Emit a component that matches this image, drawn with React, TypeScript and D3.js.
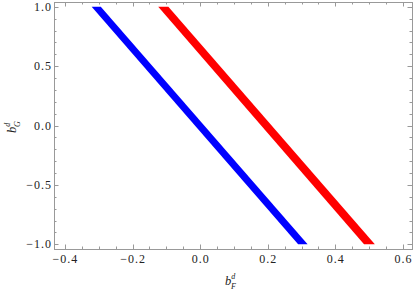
import { useEffect, useRef } from 'react';
import * as d3 from 'd3';

// band edges, read at y = -1 and y = 1
const yEnds = [-1, 1];
const blueLow = [0.290, -0.321];
const blueHigh = [0.318, -0.294];
const redLow = [0.485, -0.124];
const redHigh = [0.517, -0.094];

const xTicks = [-0.4, -0.2, 0.0, 0.2, 0.4, 0.6];
const yTicks = [-1.0, -0.5, 0.0, 0.5, 1.0];

export default function App() {
    const ref = useRef<SVGSVGElement>(null);

    useEffect(() => {
        const width = 414;
        const height = 291;
        const left = 54, top = 2, right = 412, bottom = 249;

        const svg = d3.select(ref.current);
        svg.selectAll('*').remove();

        const x = d3.scaleLinear().domain([-0.4325, 0.627]).range([left, right]);
        const y = d3.scaleLinear().domain([-1.04, 1.04]).range([bottom, top]);

        const band = (lo: number[], hi: number[]) => {
            const pts: [number, number][] = [];
            yEnds.forEach((v, i) => pts.push([x(lo[i]), y(v)]));
            for (let i = yEnds.length - 1; i >= 0; i--) pts.push([x(hi[i]), y(yEnds[i])]);
            return d3.line()(pts) + 'Z';
        };

        svg.append('path').attr('d', band(blueLow, blueHigh)).attr('fill', '#0000ff');
        svg.append('path').attr('d', band(redLow, redHigh)).attr('fill', '#ff0000');

        const frame = '#999999';
        svg.append('rect')
            .attr('x', left + 0.5).attr('y', top + 0.5)
            .attr('width', right - left).attr('height', bottom - top)
            .attr('fill', 'none').attr('stroke', frame).attr('stroke-width', 1);

        const ticks = svg.append('g').attr('stroke', frame).attr('stroke-width', 1);

        // x ticks (bottom and top, pointing inward)
        d3.range(-0.4, 0.6001, 0.05).forEach(v => {
            const major = xTicks.some(t => Math.abs(t - v) < 1e-6);
            const len = major ? 4.5 : 2.5;
            const px = Math.round(x(v)) + 0.5;
            ticks.append('line').attr('x1', px).attr('x2', px).attr('y1', bottom).attr('y2', bottom - len);
            ticks.append('line').attr('x1', px).attr('x2', px).attr('y1', top).attr('y2', top + len);
        });

        // y ticks (left and right)
        d3.range(-1.0, 1.0001, 0.1).forEach(v => {
            const major = yTicks.some(t => Math.abs(t - v) < 1e-6);
            const len = major ? 4.5 : 2.5;
            const py = Math.round(y(v)) + 0.5;
            ticks.append('line').attr('x1', left).attr('x2', left + len).attr('y1', py).attr('y2', py);
            ticks.append('line').attr('x1', right).attr('x2', right - len).attr('y1', py).attr('y2', py);
        });

        const font = 'Liberation Serif';
        const fmt = (v: number) => (v < 0 ? '\u2212' : '') + Math.abs(v).toFixed(1);

        svg.append('g').selectAll('text').data(xTicks).join('text')
            .attr('x', d => x(d) + 0.5)
            .attr('y', bottom + 14)
            .attr('text-anchor', 'middle')
            .attr('font-family', font).attr('font-size', 12)
            .attr('letter-spacing', 1)
            .attr('fill', '#222')
            .text(d => fmt(d));

        svg.append('g').selectAll('text').data(yTicks).join('text')
            .attr('x', left - 2)
            .attr('y', d => y(d) + 4)
            .attr('text-anchor', 'end')
            .attr('font-family', font).attr('font-size', 12)
            .attr('letter-spacing', 1)
            .attr('fill', '#222')
            .text(d => fmt(d));

        // axis labels b^d_F and b^d_G, one text each with stacked scripts
        const label = (g: any, sub: string) => {
            const t = g.append('text').attr('font-family', font).attr('fill', '#222')
                .attr('font-style', 'italic').attr('font-size', 12.5);
            t.append('tspan').text('b');
            t.append('tspan').attr('dy', -6.5).attr('font-size', 8).text('d');
            t.append('tspan').attr('dx', -4.3).attr('dy', 10).attr('font-size', 8).text(sub);
        };
        label(svg.append('g').attr('transform', 'translate(225,285)'), 'F');
        label(svg.append('g').attr('transform', 'translate(16,133) rotate(-90)'), 'G');

        svg.attr('width', width).attr('height', height);
    }, []);

    return (
        <div style={{ position: 'absolute', left: 0, top: 0 }}>
            <svg ref={ref} width={414} height={291} style={{ display: 'block' }} />
        </div>
    );
}
